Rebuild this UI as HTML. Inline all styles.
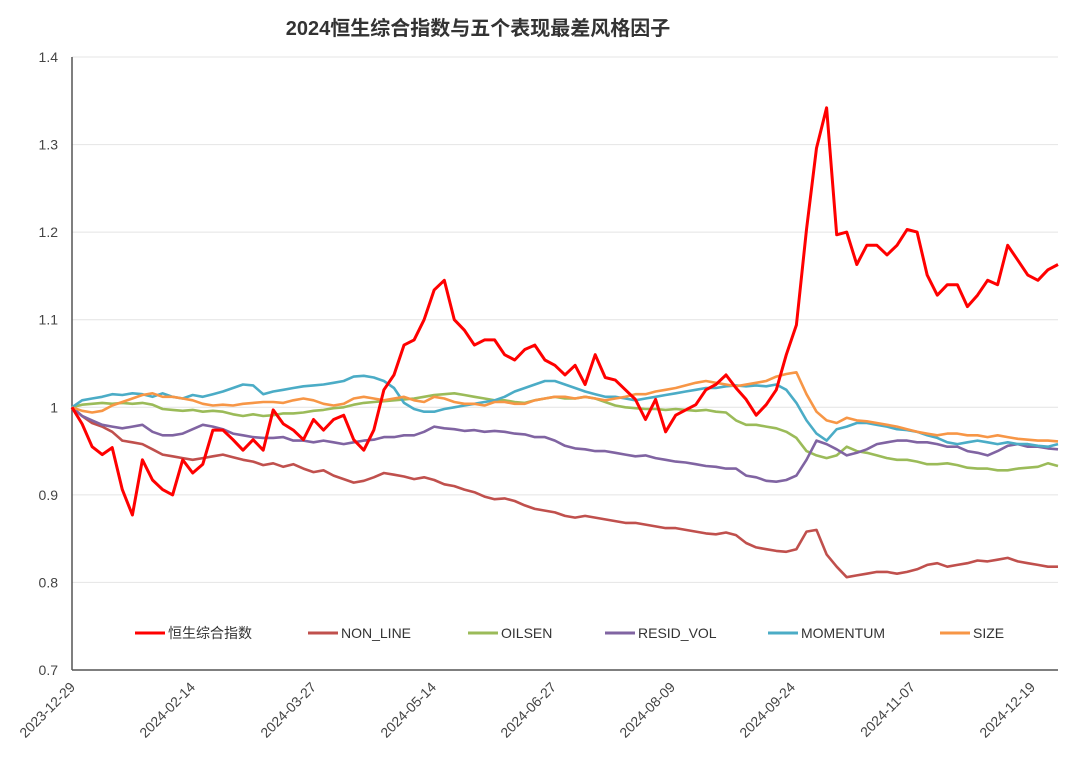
<!DOCTYPE html>
<html><head><meta charset="utf-8"><style>
body{margin:0;background:#fff;}
svg{display:block;font-family:"Liberation Sans","Noto Sans CJK SC",sans-serif;}
</style></head><body>
<svg id="chart" width="1080" height="761" viewBox="0 0 1080 761" xmlns="http://www.w3.org/2000/svg">
<text x="478" y="35" text-anchor="middle" font-size="20" font-weight="bold" fill="#333">2024恒生综合指数与五个表现最差风格因子</text>
<g id="grid"></g>
<g id="yaxis"></g>
<g id="xaxis"></g>
<g id="series"></g>
<g id="legend"></g>
</svg>
<script>
const hsci=[1.000,0.981,0.955,0.946,0.954,0.906,0.877,0.940,0.917,0.906,0.900,0.940,0.925,0.935,0.974,0.974,0.963,0.951,0.963,0.951,0.997,0.981,0.974,0.963,0.986,0.974,0.986,0.991,0.963,0.951,0.974,1.020,1.037,1.071,1.077,1.100,1.134,1.145,1.100,1.088,1.071,1.077,1.077,1.060,1.054,1.066,1.071,1.054,1.048,1.037,1.048,1.026,1.060,1.034,1.031,1.020,1.009,0.986,1.009,0.972,0.991,0.997,1.003,1.020,1.026,1.037,1.022,1.009,0.991,1.003,1.020,1.060,1.094,1.203,1.296,1.342,1.197,1.200,1.163,1.185,1.185,1.174,1.185,1.203,1.200,1.151,1.128,1.140,1.140,1.115,1.128,1.145,1.140,1.185,1.168,1.151,1.145,1.157,1.163];
const nonLine=[1.000,0.990,0.982,0.978,0.972,0.962,0.960,0.958,0.952,0.946,0.944,0.942,0.940,0.942,0.944,0.946,0.943,0.940,0.938,0.934,0.936,0.932,0.935,0.930,0.926,0.928,0.922,0.918,0.914,0.916,0.920,0.925,0.923,0.921,0.918,0.920,0.917,0.912,0.910,0.906,0.903,0.898,0.895,0.896,0.893,0.888,0.884,0.882,0.880,0.876,0.874,0.876,0.874,0.872,0.870,0.868,0.868,0.866,0.864,0.862,0.862,0.860,0.858,0.856,0.855,0.857,0.854,0.845,0.840,0.838,0.836,0.835,0.838,0.858,0.860,0.832,0.818,0.806,0.808,0.810,0.812,0.812,0.810,0.812,0.815,0.820,0.822,0.818,0.820,0.822,0.825,0.824,0.826,0.828,0.824,0.822,0.820,0.818,0.818];
const oilsen=[1.000,1.003,1.004,1.005,1.004,1.005,1.004,1.005,1.003,0.998,0.997,0.996,0.997,0.995,0.996,0.995,0.992,0.990,0.992,0.990,0.991,0.993,0.993,0.994,0.996,0.997,0.999,1.000,1.003,1.005,1.006,1.007,1.008,1.009,1.010,1.012,1.014,1.015,1.016,1.014,1.012,1.010,1.008,1.008,1.006,1.005,1.008,1.010,1.012,1.010,1.010,1.012,1.010,1.006,1.002,1.000,0.999,0.998,0.998,0.997,0.998,0.997,0.996,0.997,0.995,0.994,0.985,0.980,0.980,0.978,0.976,0.972,0.965,0.950,0.945,0.942,0.945,0.955,0.950,0.948,0.945,0.942,0.940,0.940,0.938,0.935,0.935,0.936,0.934,0.931,0.930,0.930,0.928,0.928,0.930,0.931,0.932,0.936,0.933];
const residVol=[1.000,0.990,0.985,0.980,0.978,0.976,0.978,0.980,0.972,0.968,0.968,0.970,0.975,0.980,0.978,0.975,0.970,0.968,0.966,0.965,0.965,0.966,0.962,0.962,0.960,0.962,0.960,0.958,0.960,0.962,0.963,0.966,0.966,0.968,0.968,0.972,0.978,0.976,0.975,0.973,0.974,0.972,0.973,0.972,0.970,0.969,0.966,0.966,0.962,0.956,0.953,0.952,0.950,0.950,0.948,0.946,0.944,0.945,0.942,0.940,0.938,0.937,0.935,0.933,0.932,0.930,0.930,0.922,0.920,0.916,0.915,0.917,0.922,0.940,0.962,0.958,0.952,0.945,0.948,0.952,0.958,0.960,0.962,0.962,0.960,0.960,0.958,0.955,0.955,0.950,0.948,0.945,0.950,0.956,0.958,0.955,0.955,0.953,0.952];
const momentum=[1.000,1.008,1.010,1.012,1.015,1.014,1.016,1.015,1.012,1.016,1.012,1.010,1.014,1.012,1.015,1.018,1.022,1.026,1.025,1.015,1.018,1.020,1.022,1.024,1.025,1.026,1.028,1.030,1.035,1.036,1.034,1.030,1.022,1.005,0.998,0.995,0.995,0.998,1.000,1.002,1.004,1.006,1.008,1.012,1.018,1.022,1.026,1.030,1.030,1.026,1.022,1.018,1.015,1.012,1.012,1.010,1.008,1.010,1.012,1.014,1.016,1.018,1.020,1.022,1.022,1.024,1.025,1.024,1.025,1.024,1.026,1.020,1.005,0.985,0.970,0.962,0.975,0.978,0.982,0.982,0.980,0.978,0.975,0.974,0.972,0.968,0.965,0.960,0.958,0.960,0.962,0.960,0.958,0.960,0.958,0.958,0.956,0.955,0.958];
const size=[1.000,0.996,0.994,0.996,1.002,1.006,1.010,1.014,1.016,1.012,1.012,1.010,1.008,1.004,1.002,1.003,1.002,1.004,1.005,1.006,1.006,1.005,1.008,1.010,1.008,1.004,1.002,1.004,1.010,1.012,1.010,1.008,1.010,1.012,1.008,1.006,1.012,1.010,1.006,1.004,1.004,1.002,1.006,1.006,1.004,1.004,1.008,1.010,1.012,1.012,1.010,1.012,1.010,1.008,1.010,1.012,1.015,1.015,1.018,1.020,1.022,1.025,1.028,1.030,1.028,1.026,1.024,1.026,1.028,1.030,1.035,1.038,1.040,1.015,0.995,0.985,0.982,0.988,0.985,0.984,0.982,0.980,0.978,0.975,0.972,0.970,0.968,0.970,0.970,0.968,0.968,0.966,0.968,0.966,0.964,0.963,0.962,0.962,0.961];
const yTicks=[0.7,0.8,0.9,1,1.1,1.2,1.3,1.4];
const yTickLabels=["0.7","0.8","0.9","1","1.1","1.2","1.3","1.4"];
const xTickLabels=["2023-12-29","2024-02-14","2024-03-27","2024-05-14","2024-06-27","2024-08-09","2024-09-24","2024-11-07","2024-12-19"];
const xTickFrac=[0,0.1217,0.2444,0.3661,0.4878,0.6085,0.7302,0.8519,0.9736];
const seriesNames=["恒生综合指数","NON_LINE","OILSEN","RESID_VOL","MOMENTUM","SIZE"];

const NS="http://www.w3.org/2000/svg";
const X0=72,X1=1058,Y0=670,Y1=57,VMIN=0.7,VMAX=1.4;
const xPix=(i,n)=>X0+i*10*(n>0?1:1);
const yScale=v=>Y0-(v-VMIN)/(VMAX-VMIN)*(Y0-Y1);
const xFrac=f=>X0+f*(X1-X0);
function mk(tag,attrs,parent){const e=document.createElementNS(NS,tag);for(const k in attrs)e.setAttribute(k,attrs[k]);parent.appendChild(e);return e;}
const grid=document.getElementById('grid'),ya=document.getElementById('yaxis'),xa=document.getElementById('xaxis'),sg=document.getElementById('series'),lg=document.getElementById('legend');
yTicks.forEach((t,i)=>{
  if(i>0){const l=mk('line',{x1:X0,x2:X1,y1:yScale(t),y2:yScale(t),stroke:'#e4e4e4','stroke-width':1},grid);
  
  }
  const tx=mk('text',{x:58,y:yScale(t)+5,'text-anchor':'end','font-size':14,fill:'#444'},ya);
  
  
  tx.textContent=yTickLabels[i];
});
const al=mk('line',{x1:X0,x2:X0,y1:Y1,y2:Y0,stroke:'#555','stroke-width':1.5},ya);


const bl=mk('line',{x1:X0,x2:X1,y1:Y0,y2:Y0,stroke:'#555','stroke-width':1.5},xa);


xTickLabels.forEach((s,i)=>{
  const x=xFrac(xTickFrac[i]);
  const tx=mk('text',{x:x+4,y:688,'text-anchor':'end','font-size':14,fill:'#444',transform:`rotate(-45 ${x+4} 688)`},xa);
  
  
  tx.textContent=s;
});
const all=[hsci,nonLine,oilsen,residVol,momentum,size];
const colors=['#ff0000','#c0504d','#9bbb59','#8064a2','#4bacc6','#f79646'];
const widths=[3,2.6,2.6,2.6,2.6,2.6];
const names=['line-hsci','line-non-line','line-oilsen','line-resid-vol','line-momentum','line-size'];
[1,2,3,4,5,0].forEach(k=>{
  const d=all[k];const step=(X1-X0)/(d.length-1);
  const pts=d.map((v,i)=>(X0+i*step).toFixed(1)+','+yScale(v).toFixed(1)).join(' ');
  const p=mk('polyline',{points:pts,fill:'none',stroke:colors[k],'stroke-width':widths[k],'stroke-linejoin':'round'},sg);
  
  
});
const lx=[135,308,468,605,768,940];
seriesNames.forEach((n,k)=>{
  const g=mk('g',{},lg);
  
  
  mk('line',{x1:lx[k],x2:lx[k]+30,y1:633,y2:633,stroke:colors[k],'stroke-width':3},g);
  const t=mk('text',{x:lx[k]+33,y:638,'font-size':14,fill:'#333'},g);
  t.textContent=n;
});
</script>
</body></html>
